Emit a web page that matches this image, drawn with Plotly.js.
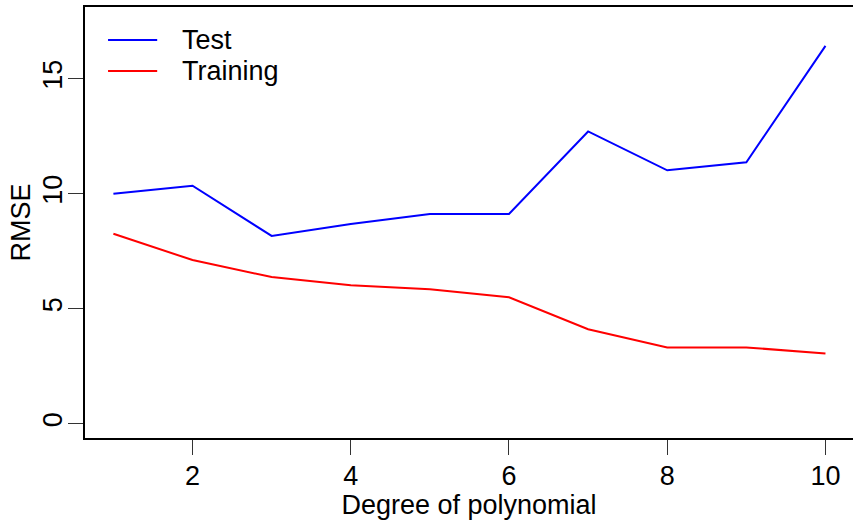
<!DOCTYPE html>
<html>
<head>
<meta charset="utf-8">
<script src="https://cdn.plot.ly/plotly-3.0.1.min.js"></script>
<style>
  html, body { margin: 0; padding: 0; background: #fff; }
  #chart { width: 853px; height: 520px; }
</style>
</head>
<body>
<div id="chart"></div>
<script>
// Polynomial degree vs. RMSE on training and test sets
const degree = [1, 2, 3, 4, 5, 6, 7, 8, 9, 10];
const testRMSE = [10.0, 10.35, 8.17, 8.69, 9.12, 9.12, 12.71, 11.02, 11.37, 16.43];
const trainRMSE = [8.26, 7.12, 6.38, 6.02, 5.85, 5.50, 4.11, 3.32, 3.32, 3.06];
const seriesNames = ['Test', 'Training'];
const seriesColors = ['#0000ff', '#ff0000'];
const xTicks = [2, 4, 6, 8, 10];
const yTicks = [0, 5, 10, 15];

const FONT = 'Liberation Sans, Arial, sans-serif';
const FS = 27;

const traces = [testRMSE, trainRMSE].map((vals, i) => ({
  x: degree,
  y: vals,
  type: 'scatter',
  mode: 'lines',
  name: seriesNames[i],
  line: { color: seriesColors[i], width: 2 },
  showlegend: false,
  hoverinfo: 'x+y'
}));

// Hand-drawn legend box in the upper-left corner
const legendRows = [0.9234, 0.8515];
const shapes = seriesNames.map((n, i) => ({
  type: 'line', xref: 'paper', yref: 'paper',
  x0: 0.030, x1: 0.094, y0: legendRows[i], y1: legendRows[i],
  line: { color: seriesColors[i], width: 2 }
}));
const annotations = seriesNames.map((n, i) => ({
  xref: 'paper', yref: 'paper', x: 0.124, y: legendRows[i],
  xanchor: 'left', yanchor: 'middle', showarrow: false,
  text: n, font: { family: FONT, size: FS, color: '#000' }
}));

const layout = {
  width: 853, height: 520,
  margin: { l: 85, r: 0, t: 7, b: 82, pad: 0 },
  paper_bgcolor: '#fff', plot_bgcolor: '#fff',
  font: { family: FONT, size: FS, color: '#000' },
  xaxis: {
    range: [0.641, 10.348],
    tickvals: xTicks, ticktext: xTicks.map(String),
    ticklabelstandoff: -2,
    showgrid: false, zeroline: false,
    showline: true, linecolor: '#000', linewidth: 2, mirror: true,
    ticks: 'outside', ticklen: 15, tickwidth: 1, tickcolor: '#333',
    tickfont: { family: FONT, size: FS, color: '#000' },
    title: { text: 'Degree of polynomial', font: { family: FONT, size: FS, color: '#000' }, standoff: 5 }
  },
  yaxis: {
    range: [-0.617, 18.12],
    tickvals: yTicks, ticktext: yTicks.map(String),
    tickangle: -90,
    ticklabelstandoff: -5,
    showgrid: false, zeroline: false,
    showline: true, linecolor: '#000', linewidth: 2, mirror: false,
    ticks: 'outside', ticklen: 15, tickwidth: 1, tickcolor: '#333',
    tickfont: { family: FONT, size: FS, color: '#000' },
    title: { text: 'RMSE', font: { family: FONT, size: FS, color: '#000' }, standoff: 0 }
  },
  shapes: shapes,
  annotations: annotations,
  showlegend: false
};

Plotly.newPlot('chart', traces, layout, { staticPlot: true, displayModeBar: false });
</script>
</body>
</html>
